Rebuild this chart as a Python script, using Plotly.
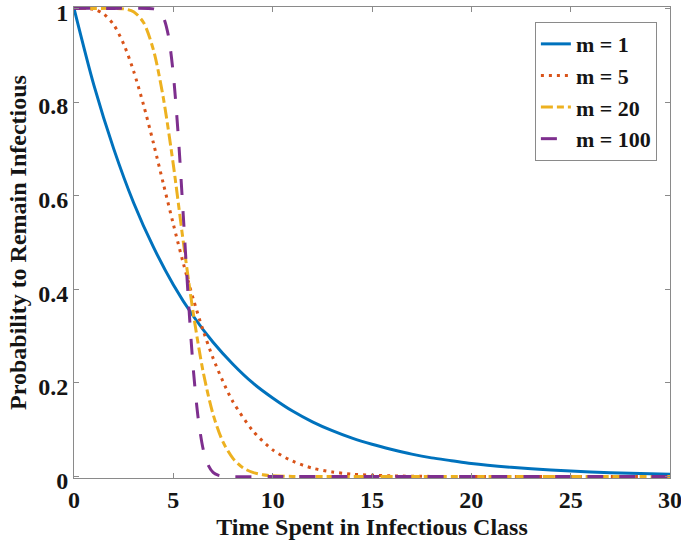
import plotly.graph_objects as go

# Survival curves: probability to remain infectious vs. time spent in class
t_m1 = [0, 1, 2, 3, 4, 5, 6, 7, 8, 9, 10, 11, 12, 13, 14, 15, 16, 17, 18, 19, 20,
        22, 24, 26, 28, 30]
p_m1 = [1.0, 0.836, 0.700, 0.585, 0.490, 0.410, 0.343, 0.287, 0.240, 0.200, 0.168,
        0.140, 0.117, 0.098, 0.082, 0.069, 0.058, 0.048, 0.040, 0.034, 0.028,
        0.020, 0.014, 0.010, 0.007, 0.005]

t_m5 = [0, 1, 1.5, 2, 2.5, 3, 3.5, 4, 4.5, 5, 5.5, 6, 6.5, 7, 7.5, 8, 9, 10, 11, 12,
        13, 14, 15, 16, 18, 20, 22, 25, 30]
p_m5 = [1.0, 0.998, 0.988, 0.965, 0.924, 0.866, 0.794, 0.712, 0.625, 0.539, 0.456,
        0.380, 0.312, 0.253, 0.203, 0.160, 0.098, 0.057, 0.033, 0.018, 0.010, 0.005,
        0.003, 0.0015, 0.0004, 0.0001, 0.0, 0.0, 0.0]

t_m20 = [0, 1, 2, 2.5, 3, 3.5, 4, 4.5, 5, 5.5, 6, 6.5, 7, 7.5, 8, 8.5, 9, 9.5, 10,
         11, 12, 15, 20, 25, 30]
p_m20 = [1.0, 1.0, 1.0, 0.999, 0.993, 0.970, 0.911, 0.808, 0.666, 0.502, 0.350,
         0.224, 0.133, 0.074, 0.039, 0.019, 0.009, 0.004, 0.0017, 0.0003, 0.0,
         0.0, 0.0, 0.0, 0.0]

t_m100 = [0, 2, 4, 4.25, 4.5, 4.75, 5, 5.25, 5.5, 5.75, 6, 6.25, 6.5, 6.75, 7, 7.25,
          7.5, 8, 10, 15, 20, 25, 30]
p_m100 = [1.0, 1.0, 0.999, 0.995, 0.981, 0.942, 0.859, 0.727, 0.558, 0.383, 0.232,
          0.125, 0.059, 0.025, 0.009, 0.003, 0.001, 0.0, 0.0, 0.0, 0.0, 0.0, 0.0]

labels = ["m = 1", "m = 5", "m = 20", "m = 100"]
colors = ["#0072BD", "#D95319", "#EDB120", "#7E2F8E"]
dashes = ["solid", "3px,5px", "12px,4px,7px,4px", "16px,16px"]

x_ticks = [0, 5, 10, 15, 20, 25, 30]
y_ticks = [0, 0.2, 0.4, 0.6, 0.8, 1]

FONT = "Liberation Serif"
AXIS_COLOR = "#8a8a8a"
TEXT_COLOR = "#151515"

fig = go.Figure()
for tx, py, name, col, dsh in zip([t_m1, t_m5, t_m20, t_m100],
                                  [p_m1, p_m5, p_m20, p_m100],
                                  labels, colors, dashes):
    fig.add_trace(go.Scatter(
        x=tx, y=py, mode="lines", name=name,
        line=dict(color=col, width=3, dash=dsh, shape="spline", smoothing=0.8),
    ))

axis_common = dict(
    showline=True, linecolor=AXIS_COLOR, linewidth=1, mirror="ticks",
    ticks="inside", ticklen=5, tickcolor=AXIS_COLOR, tickwidth=1,
    showgrid=False, zeroline=False, ticklabeloverflow="allow", automargin=False,
    tickfont=dict(family=FONT, size=24, color=TEXT_COLOR, weight="bold"),
)

fig.update_layout(
    width=681, height=548,
    margin=dict(l=74, r=11, t=7, b=70),
    paper_bgcolor="white", plot_bgcolor="white",
    showlegend=True,
    legend=dict(
        x=0.978, y=0.968, xanchor="right", yanchor="top",
        bgcolor="white", bordercolor=AXIS_COLOR, borderwidth=1,
        font=dict(family=FONT, size=22, color=TEXT_COLOR, weight="bold"),
        tracegroupgap=0, itemwidth=30,
    ),
    xaxis=dict(
        range=[0, 30], tickvals=x_ticks,
        title=dict(text="Time Spent in Infectious Class", standoff=6,
                   font=dict(family=FONT, size=24, color=TEXT_COLOR, weight="bold")),
        **axis_common,
    ),
    yaxis=dict(
        range=[-0.003, 1.003], tickvals=y_ticks,
        ticktext=[f"{v:g}" for v in y_ticks],
        ticklabelshift=4,
        title=dict(text="Probability to Remain Infectious", standoff=4,
                   font=dict(family=FONT, size=24, color=TEXT_COLOR, weight="bold")),
        **axis_common,
    ),
)

fig.write_html("out.html")
